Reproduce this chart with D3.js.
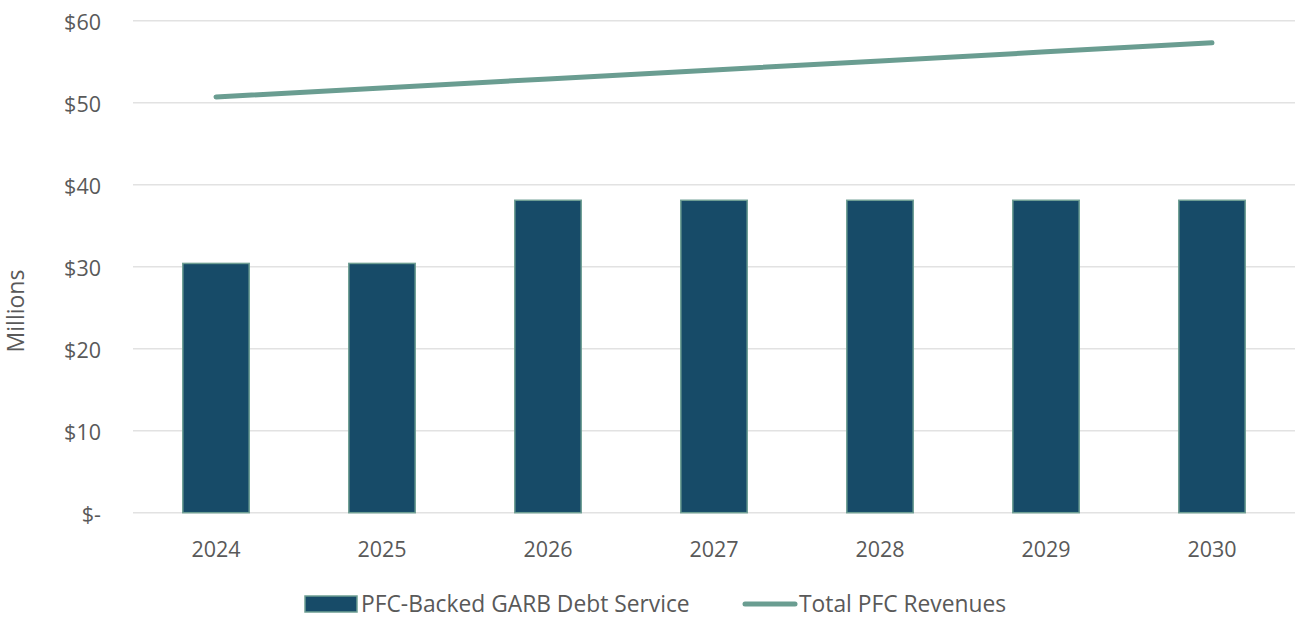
<!DOCTYPE html>
<html>
<head>
<meta charset="utf-8">
<script src="https://cdn.jsdelivr.net/npm/d3@7"></script>
<style>
  html, body { margin: 0; padding: 0; background: #fff; }
  svg text { font-family: "Open Sans", "Noto Sans", sans-serif; fill: #595959; }
</style>
</head>
<body>
<svg id="chart" width="1297" height="618"></svg>
<script>
// Fiscal years on the category axis
const years = ["2024", "2025", "2026", "2027", "2028", "2029", "2030"];
// PFC-backed GARB debt service ($ millions)
const debtService = [30.4, 30.4, 38.1, 38.1, 38.1, 38.1, 38.1];
// Total PFC revenues ($ millions)
const pfcRevenues = [50.7, 51.8, 52.9, 54.0, 55.1, 56.2, 57.3];
// Y-axis ticks and their labels
const yTicks = [0, 10, 20, 30, 40, 50, 60];
const yTickLabels = ["$-", "$10", "$20", "$30", "$40", "$50", "$60"];
const seriesNames = ["PFC-Backed GARB Debt Service", "Total PFC Revenues"];

const barFill = "#174B68";
const barStroke = "#6E9E93";
const lineColor = "#6A9D91";
const font = "'Open Sans', 'Noto Sans', sans-serif";

const svg = d3.select("#chart");
const plot = { left: 133, right: 1295, top: 20.7, bottom: 512.7 };

const x = d3.scaleBand()
  .domain(years)
  .range([plot.left, plot.right])
  .paddingInner(0.6)
  .paddingOuter(0.3);

const y = d3.scaleLinear()
  .domain([0, 60])
  .range([plot.bottom, plot.top]);

// Horizontal gridlines
svg.append("g")
  .selectAll("line")
  .data(yTicks)
  .join("line")
  .attr("x1", plot.left)
  .attr("x2", plot.right)
  .attr("y1", d => y(d))
  .attr("y2", d => y(d))
  .attr("stroke", "#e2e2e2")
  .attr("stroke-width", 1.5);

// Y axis labels
const yAxis = d3.axisLeft(y)
  .tickValues(yTicks)
  .tickFormat((d, i) => yTickLabels[i])
  .tickSize(0)
  .tickPadding(0);
const gy = svg.append("g")
  .attr("transform", `translate(101,0)`)
  .call(yAxis);
gy.select(".domain").remove();
gy.selectAll("text")
  .attr("font-size", 21.5)
  .attr("x", 0)
  .attr("dy", 8.5)
  .style("font-family", font)
  .attr("fill", "#595959");

// X axis labels
const xAxis = d3.axisBottom(x).tickSize(0).tickPadding(0);
const gx = svg.append("g")
  .attr("transform", `translate(0,557)`)
  .call(xAxis);
gx.select(".domain").remove();
gx.selectAll("text")
  .attr("font-size", 21.5)
  .attr("y", 0)
  .attr("dy", 0)
  .style("font-family", font)
  .attr("fill", "#595959");

// Axis title
svg.append("text")
  .attr("transform", `translate(24,311) rotate(-90)`)
  .attr("text-anchor", "middle")
  .attr("font-size", 23)
  .text("Millions");

// Bars
svg.append("g")
  .selectAll("rect")
  .data(debtService)
  .join("rect")
  .attr("x", (d, i) => x(years[i]))
  .attr("width", x.bandwidth())
  .attr("y", d => y(d))
  .attr("height", d => y(0) - y(d))
  .attr("fill", barFill)
  .attr("stroke", barStroke)
  .attr("stroke-width", 1.5);

// Revenue line
const line = d3.line()
  .x((d, i) => x(years[i]) + x.bandwidth() / 2)
  .y(d => y(d));
svg.append("path")
  .datum(pfcRevenues)
  .attr("d", line)
  .attr("fill", "none")
  .attr("stroke", lineColor)
  .attr("stroke-width", 5)
  .attr("stroke-linecap", "round")
  .attr("stroke-linejoin", "round");

// Legend
const legend = svg.append("g");
legend.append("rect")
  .attr("x", 305).attr("y", 596)
  .attr("width", 52).attr("height", 16)
  .attr("fill", barFill)
  .attr("stroke", barStroke)
  .attr("stroke-width", 1.5);
legend.append("text")
  .attr("x", 361).attr("y", 612)
  .attr("font-size", 22.8)
  .text(seriesNames[0]);
legend.append("line")
  .attr("x1", 745).attr("x2", 795)
  .attr("y1", 604).attr("y2", 604)
  .attr("stroke", lineColor)
  .attr("stroke-width", 5)
  .attr("stroke-linecap", "round");
legend.append("text")
  .attr("x", 799).attr("y", 612)
  .attr("font-size", 22.8)
  .text(seriesNames[1]);
</script>
</body>
</html>
